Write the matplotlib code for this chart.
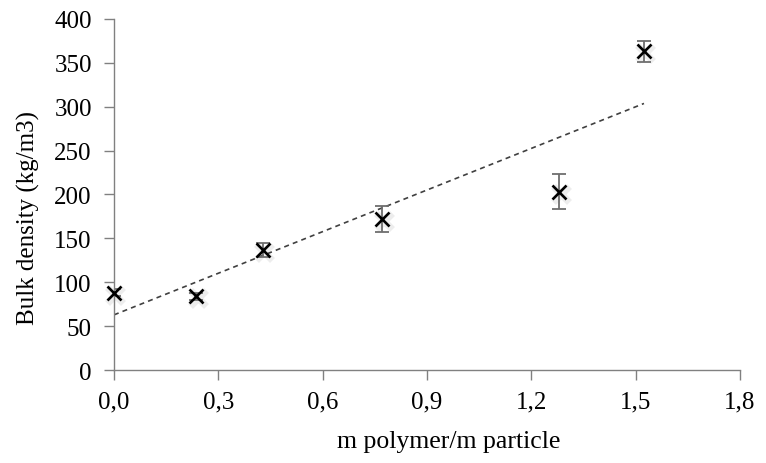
import numpy as np
import matplotlib.pyplot as plt
import matplotlib.transforms as mtransforms

ratio = [0.0, 0.236, 0.428, 0.771, 1.28, 1.524]
density = [88, 84, 137, 172, 203, 363]
err = [4, 4, 8, 15, 20, 12]
xticks = [0.0, 0.3, 0.6, 0.9, 1.2, 1.5, 1.8]
yticks = [0, 50, 100, 150, 200, 250, 300, 350, 400]

plt.rcParams['font.family'] = ['Liberation Serif', 'DejaVu Serif']

fig = plt.figure(figsize=(7.66, 4.64), dpi=100)
ax = fig.add_axes([0.1488, 0.2004, 0.8172, 0.7566])

# soft shadow behind the markers
shadow = mtransforms.offset_copy(ax.transData, fig=fig, x=1.5, y=-2, units='dots')
ax.plot(ratio, density, 'x', color='#000000', alpha=0.07, markersize=12,
        markeredgewidth=5, transform=shadow, zorder=1, clip_on=False)

ax.errorbar(ratio, density, yerr=err, fmt='none', ecolor='#6e6e6e',
            elinewidth=1.3, capsize=5, capthick=1.3, zorder=2)
ax.plot(ratio, density, 'x', color='black', markersize=10, markeredgewidth=1.9,
        zorder=3, clip_on=False)

slope, intercept = np.polyfit(ratio, density, 1)
xs = np.array([0, max(ratio)])
ax.plot(xs, slope * xs + intercept, linestyle=(0, (3, 2.5)), color='#404040',
        linewidth=1.2, zorder=1)

ax.set_xlim(0, 1.8)
ax.set_ylim(0, 400)
ax.set_xticks(xticks)
ax.set_xticklabels([f"{t:.1f}".replace('.', ',') for t in xticks])
ax.set_yticks(yticks)
ax.tick_params(labelsize=18, color='#808080', length=7, width=1)
ax.tick_params(axis='x', pad=8)
ax.tick_params(axis='y', pad=9)

for s in ['top', 'right']:
    ax.spines[s].set_visible(False)
for s in ['left', 'bottom']:
    ax.spines[s].set_color('#808080')
    ax.spines[s].set_linewidth(1)

ax.set_xlabel('m polymer/m particle', fontsize=18.5)
ax.xaxis.set_label_coords(0.534, -0.172)
ax.set_ylabel('Bulk density (kg/m3)', fontsize=18)
ax.yaxis.set_label_coords(-0.118, 0.436)

fig.savefig('out.png', dpi=100)
